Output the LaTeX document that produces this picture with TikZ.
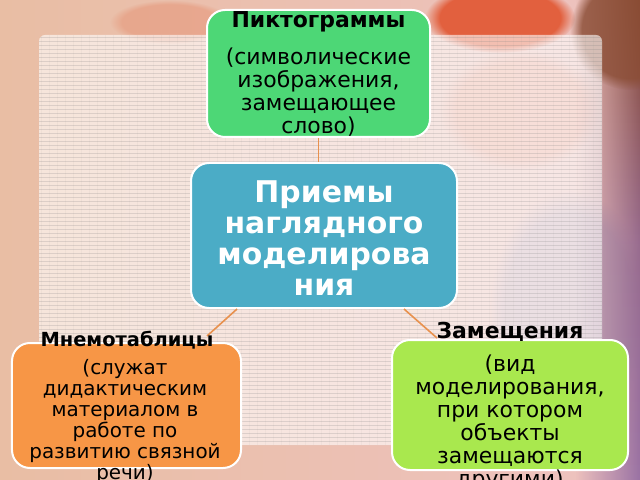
\documentclass[tikz,border=0pt]{standalone}
\usepackage{fontspec}
\setmainfont{DejaVu Sans}
\usetikzlibrary{fadings}
\definecolor{boxgreen}{HTML}{4DD776}
\definecolor{boxblue}{HTML}{4BACC6}
\definecolor{boxorange}{HTML}{F79646}
\definecolor{boxlime}{HTML}{A9E84E}
\definecolor{linkcol}{HTML}{E8914E}
\definecolor{bgpeach}{HTML}{E9BEA4}
\definecolor{bgpink}{HTML}{EEC2C0}
\definecolor{bgbrown}{HTML}{8A4C34}
\definecolor{bgpurple}{HTML}{9A72A4}
\definecolor{bgred}{HTML}{E2603E}
\definecolor{bglilac}{HTML}{B8A4B8}
\tikzfading[name=fadeinright, left color=transparent!100, right color=transparent!0]
\tikzset{
  box/.style={rectangle, rounded corners=18bp, draw=white, line width=2bp, inner sep=0pt},
  bodytext/.style={align=center, inner sep=0pt, text=black},
  labeltext/.style={inner sep=0pt, text=black, font=\fontsize{22}{24}\selectfont\bfseries},
  link/.style={draw=linkcol, line width=1.6bp},
  blob/.style={path fading=circle with fuzzy edge 20 percent}
}
\begin{document}
\begin{tikzpicture}[x=1bp, y=-1bp]
\useasboundingbox (0,0) rectangle (640,480);
% background
\shade[left color=bgpeach, right color=bgpink] (0,0) rectangle (640,480);
\fill[bgred, blob] (500,18) ellipse [x radius=75, y radius=35];
\fill[bgred!60!white, blob, opacity=0.6] (520,110) ellipse [x radius=80, y radius=60];
\fill[bglilac, blob, opacity=0.6] (570,310) ellipse [x radius=80, y radius=120];
\fill[bgred!40!bgpeach, blob, opacity=0.6] (170,22) ellipse [x radius=60, y radius=22];
\shade[top color=bgbrown, bottom color=bgpurple, middle color=bgpurple!80!bgbrown, path fading=fadeinright] (575,0) rectangle (640,480);
\fill[bgbrown, blob, opacity=0.8] (630,30) ellipse [x radius=60, y radius=60];
% panel
\fill[white, opacity=0.6, rounded corners=6bp] (39,35) rectangle (602,445);
\begin{scope}
\clip[rounded corners=6bp] (39,35) rectangle (602,445);
\foreach \yy in {37,41,...,445} \draw[gray, opacity=0.22, line width=0.5bp] (39,\yy) -- (602,\yy);
\foreach \xx in {41,49,...,602} \draw[gray, opacity=0.06, line width=0.5bp] (\xx,35) -- (\xx,445);
\end{scope}
% boxes
\node[box, fill=boxgreen, minimum width=223bp, minimum height=127bp] (pik) at (318.5,73.5) {};
\node[box, fill=boxblue, minimum width=266bp, minimum height=145bp] (main) at (324,235.5) {};
\node[box, fill=boxorange, minimum width=229bp, minimum height=125bp] (mnemo) at (126.5,405.5) {};
\node[box, fill=boxlime, minimum width=236bp, minimum height=130bp] (zam) at (510,405) {};
% connectors
\coordinate (mnemoend) at (207,336);
\coordinate (zamend) at (437,338);
\draw[link] (pik.south) -- (pik.south |- main.north);
\draw[link] (main.south west) ++(47,0) coordinate (mainsl) (mainsl) -- (mnemoend);
\draw[link] (main.south east) ++(-54,0) coordinate (mainsr) (mainsr) -- (zamend);
% texts
\node[labeltext] (pikl) at (318.5,22) {Пиктограммы};
\node[bodytext, font=\fontsize{22}{23}\selectfont] (pikb) at (318.5,92) {(символические\\изображения,\\замещающее\\слово)};
\node[bodytext, text=white, font=\fontsize{30}{31}\selectfont\bfseries] (mainb) at (324,238) {Приемы\\наглядного\\моделирова\\ния};
\node[labeltext, font=\fontsize{19.5}{22}\selectfont\bfseries] (mnemol) at (127,340) {Мнемотаблицы};
\node[bodytext, font=\fontsize{20}{21}\selectfont] (mnemob) at (125,421.5) {(служат\\дидактическим\\материалом в\\работе по\\развитию связной\\речи)};
\node[labeltext] (zaml) at (510,332) {Замещения};
\node[bodytext, font=\fontsize{22}{23}\selectfont] (zamb) at (510,423) {(вид\\моделирования,\\при котором\\объекты\\замещаются\\другими)};
\end{tikzpicture}
\end{document}
